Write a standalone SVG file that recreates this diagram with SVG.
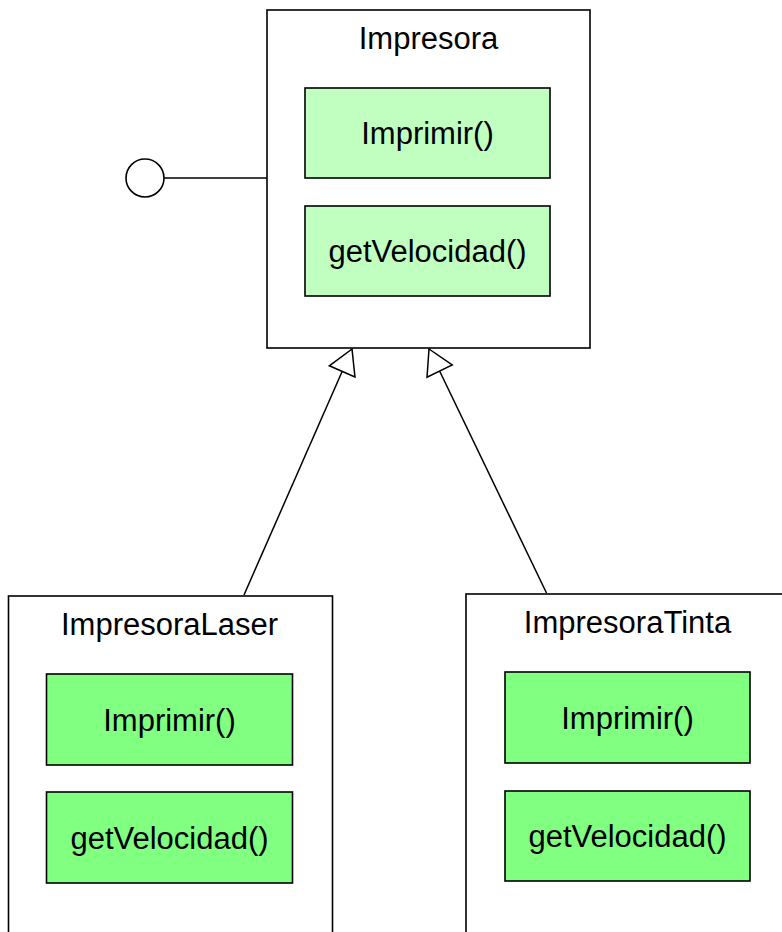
<svg xmlns="http://www.w3.org/2000/svg" width="782" height="932" viewBox="0 0 782 932">
<style>
.box{fill:#ffffff;stroke:#000000;stroke-width:1.6}
.m1{fill:#c0ffc0;stroke:#000000;stroke-width:1.6}
.m2{fill:#80ff80;stroke:#000000;stroke-width:1.6}
.t{font-family:"Liberation Sans",Arial,Helvetica,sans-serif;font-size:31px;fill:#000000;text-anchor:middle}
.c{stroke:#000000;stroke-width:1.5;fill:none}
</style>
<defs>
<marker id="tri" markerUnits="userSpaceOnUse" markerWidth="30" markerHeight="32" refX="26" refY="15" orient="auto" viewBox="0 0 30 30" overflow="visible">
<path d="M26,15 L1.5,1 L1.5,29 Z" fill="#ffffff" stroke="#000000" stroke-width="1.5"/>
</marker>
</defs>
<g id="connectors">
<line class="c" x1="164" y1="178" x2="267" y2="178"/>
<line class="c" x1="244" y1="595" x2="352" y2="349" marker-end="url(#tri)"/>
<line class="c" x1="546.5" y1="593" x2="429" y2="349" marker-end="url(#tri)"/>
</g>
<g id="interface">
<circle cx="145" cy="178" r="19" fill="#ffffff" stroke="#000000" stroke-width="1.6"/>
</g>
<g id="Impresora">
<rect class="box" x="267" y="10" width="323" height="338"/>
<text class="t" x="428.5" y="49">Impresora</text>
<g id="Impresora-imprimir">
<rect class="m1" x="305" y="88" width="245" height="90"/>
<text class="t" x="427.5" y="144">Imprimir()</text>
</g>
<g id="Impresora-getVelocidad">
<rect class="m1" x="305" y="206" width="245" height="90"/>
<text class="t" x="427.5" y="262">getVelocidad()</text>
</g>
</g>
<g id="ImpresoraLaser">
<rect class="box" x="8.5" y="596" width="324" height="360"/>
<text class="t" x="169.5" y="635">ImpresoraLaser</text>
<g id="ImpresoraLaser-imprimir">
<rect class="m2" x="46.5" y="674" width="246" height="91"/>
<text class="t" x="169.5" y="730.5">Imprimir()</text>
</g>
<g id="ImpresoraLaser-getVelocidad">
<rect class="m2" x="46.5" y="792" width="246" height="91"/>
<text class="t" x="169.5" y="848.5">getVelocidad()</text>
</g>
</g>
<g id="ImpresoraTinta">
<rect class="box" x="466" y="594" width="324" height="360"/>
<text class="t" x="627.5" y="633">ImpresoraTinta</text>
<g id="ImpresoraTinta-imprimir">
<rect class="m2" x="505" y="672" width="245" height="91"/>
<text class="t" x="627.5" y="728.5">Imprimir()</text>
</g>
<g id="ImpresoraTinta-getVelocidad">
<rect class="m2" x="505" y="791" width="245" height="90"/>
<text class="t" x="627.5" y="847">getVelocidad()</text>
</g>
</g>
</svg>
